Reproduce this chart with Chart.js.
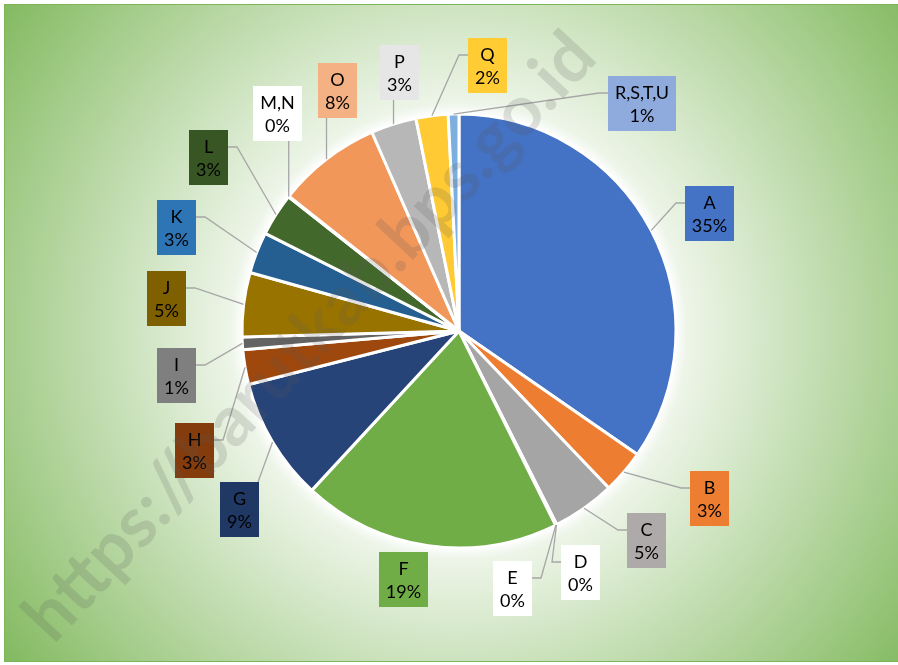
<!DOCTYPE html>
<html><head><meta charset="utf-8">
<script src="https://cdn.jsdelivr.net/npm/chart.js@4.4.1/dist/chart.umd.min.js"></script>
<style>html,body{margin:0;padding:0;background:#fff}#wrap{width:898px;height:665px;position:relative}canvas{display:block}</style>
</head><body><div id="wrap"><canvas id="c" width="898" height="665"></canvas></div>
<script>
// ---- data ----
const categories = ['A','B','C','D','E','F','G','H','I','J','K','L','M,N','O','P','Q','R,S,T,U'];
const shares = [34.8, 3.25, 4.7, 0.05, 0.05, 19.3, 9.2, 2.6, 0.95, 4.8, 3.1, 3.2, 0.05, 7.8, 3.4, 2.4, 0.8];
const watermarkText = 'https://barutkab.bps.go.id';

// ---- styles ----
const sliceColors = ['#4472C4','#ED7D31','#A5A5A5','#FFC000','#5B9BD5','#70AD47','#264478','#9E480E','#636363','#997300','#255E91','#43682B','#698ED0','#F1975A','#B7B7B7','#FFCA33','#7CAFDD'];
const boxColors = ['#4472C4','#ED7D31','#AEAAAA','#FFFFFF','#FFFFFF','#70AD47','#1F3864','#843C0C','#7F7F7F','#7F6000','#2E75B6','#375623','#FFFFFF','#F4B183','#E7E6E6','#FFCC33','#8FAADC'];
// label box centre offsets from the pie centre and where the leader line attaches
const labelLayout = [
  [250,-118,'l'],[250,167,'l'],[187,209,'l'],[121,241,'l'],[53,257,'r'],[-56,248,'none'],
  [-220,178,'t'],[-265,119,'r'],[-283,44,'r'],[-293,-33,'r'],[-283,-104,'r'],[-251,-174,'r'],
  [-182,-218,'b'],[-122,-241,'b'],[-60,-259,'b'],[28,-266,'l'],[183,-228,'l']
];
const FONT = '18px Lato, "Open Sans", sans-serif';

const bgPlugin = {
  id: 'bg',
  beforeDraw(chart) {
    const ctx = chart.ctx;
    ctx.save();
    ctx.fillStyle = '#fff';
    ctx.fillRect(0, 0, chart.width, chart.height);
    const g = ctx.createRadialGradient(459, 331, 0, 459, 331, 570);
    g.addColorStop(0, '#ffffff');
    g.addColorStop(0.3, '#ffffff');
    g.addColorStop(1, '#80B85C');
    ctx.fillStyle = g;
    ctx.fillRect(4, 4, 894, 658);
    ctx.strokeStyle = '#7DB558';
    ctx.lineWidth = 1;
    ctx.strokeRect(4.5, 4.5, 894, 657);
    ctx.restore();
  },
  beforeDatasetsDraw(chart) {
    const arc = chart.getDatasetMeta(0).data[0];
    if (!arc) return;
    const ctx = chart.ctx;
    ctx.save();
    ctx.shadowColor = 'rgba(255,255,255,1)';
    ctx.shadowBlur = 14;
    ctx.fillStyle = '#fff';
    ctx.beginPath();
    ctx.arc(arc.x, arc.y, arc.outerRadius + 1, 0, Math.PI * 2);
    ctx.fill();
    ctx.fill();
    ctx.restore();
  }
};

const labelPlugin = {
  id: 'labels',
  afterDatasetsDraw(chart) {
    const ctx = chart.ctx;
    const meta = chart.getDatasetMeta(0);
    const total = shares.reduce((a, b) => a + b, 0);
    ctx.save();
    ctx.font = FONT;
    meta.data.forEach((arc, i) => {
      const cx = arc.x, cy = arc.y;
      const mid = (arc.startAngle + arc.endAngle) / 2;
      const R = arc.outerRadius;
      const P = {x: cx + R * Math.cos(mid), y: cy + R * Math.sin(mid)};
      const line1 = categories[i];
      const line2 = Math.round(shares[i] / total * 100) + '%';
      const w = Math.round(Math.max(ctx.measureText(line1).width, ctx.measureText(line2).width) + 14);
      const h = 55;
      const [dx, dy, att] = labelLayout[i];
      const bx = cx + dx, by = cy + dy;
      const x0 = Math.round(bx - w / 2), y0 = Math.round(by - h / 2), x1 = x0 + w, y1 = y0 + h;
      // leader line
      let pts = null;
      if (att === 'l') pts = [[x0, y0 + 17], [x0 - 9, y0 + 17], [P.x, P.y]];
      else if (att === 'r') pts = [[x1, y0 + 17], [x1 + 9, y0 + 17], [P.x, P.y]];
      else if (att === 'b') pts = [[Math.min(Math.max(P.x, x0 + 6), x1 - 6), y1], [P.x, P.y]];
      else if (att === 't') pts = [[Math.min(Math.max(P.x, x0 + 6), x1 - 1), y0], [P.x, P.y]];
      if (pts) {
        ctx.strokeStyle = '#A6A6A6';
        ctx.lineWidth = 1.3;
        ctx.beginPath();
        ctx.moveTo(pts[0][0], pts[0][1]);
        for (let k = 1; k < pts.length; k++) ctx.lineTo(pts[k][0], pts[k][1]);
        ctx.stroke();
      }
      ctx.fillStyle = boxColors[i];
      ctx.fillRect(x0, y0, w, h);
      ctx.fillStyle = '#000';
      ctx.textAlign = 'center';
      ctx.textBaseline = 'middle';
      ctx.fillText(line1, (x0 + x1) / 2, y0 + 17);
      ctx.fillText(line2, (x0 + x1) / 2, y0 + 40);
    });
    ctx.restore();
  },
  afterDraw(chart) {
    const ctx = chart.ctx;
    ctx.save();
    ctx.font = 'bold 60px Lato, "Open Sans", sans-serif';
    const m = ctx.measureText(watermarkText).width;
    const size = 60 * 800 / m;
    ctx.font = 'bold ' + size.toFixed(1) + 'px Lato, "Open Sans", sans-serif';
    ctx.translate(310, 337);
    ctx.rotate(-47 * Math.PI / 180);
    ctx.fillStyle = 'rgba(90,90,90,0.18)';
    ctx.textAlign = 'center';
    ctx.textBaseline = 'middle';
    ctx.fillText(watermarkText, 0, 0);
    ctx.restore();
  }
};

function build() {
  new Chart(document.getElementById('c'), {
    type: 'pie',
    data: {
      labels: categories,
      datasets: [{
        data: shares,
        backgroundColor: sliceColors,
        borderColor: '#ffffff',
        borderWidth: 3,
        hoverOffset: 0,
        radius: 217
      }]
    },
    options: {
      responsive: false,
      devicePixelRatio: 1,
      animation: false,
      events: [],
      layout: {padding: {top: 100, bottom: 103, left: 120, right: 100}},
      plugins: {legend: {display: false}, tooltip: {enabled: false}}
    },
    plugins: [bgPlugin, labelPlugin]
  });
}
if (document.fonts && document.fonts.load) {
  Promise.all([document.fonts.load(FONT), document.fonts.load('bold 60px Lato')]).then(build, build);
} else build();
</script>
</body></html>
